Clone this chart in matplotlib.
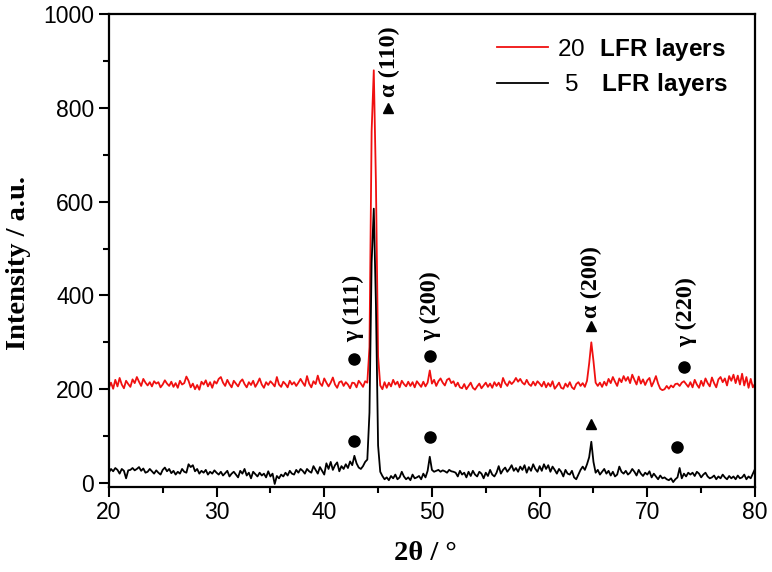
"""
XRD patterns for 20 and 5 LFR layers
"""

import numpy as np
import matplotlib
matplotlib.use('Agg')
import matplotlib.pyplot as plt

# 2-theta sampling, 0.2 deg from 20 to 80
two_theta = np.round(np.arange(20.0, 80.01, 0.2), 1)

# 20 LFR layers (red)
red_counts = [
    203, 214, 201, 220, 206, 224, 210, 202, 218, 211,
    205, 221, 213, 226, 216, 207, 222, 214, 208, 215,
    206, 217, 212, 215, 204, 210, 219, 212, 207, 216,
    205, 213, 203, 218, 210, 213, 227, 218, 204, 212,
    200, 209, 199, 216, 210, 219, 206, 215, 203, 217,
    212, 222, 226, 214, 207, 220, 211, 204, 218, 212,
    206, 216, 221, 211, 204, 215, 209, 218, 205, 213,
    223, 210, 203, 215, 209, 217, 212, 206, 226, 210,
    205, 216, 211, 204, 218, 210, 215, 207, 214, 222,
    214, 207, 228, 212, 204, 217, 211, 229, 213, 207,
    223, 214, 206, 214, 225, 210, 203, 215, 217, 207,
    215, 210, 202, 214, 213, 204, 218, 212, 205, 217,
    214, 290, 750, 880, 640, 270, 208, 200, 215, 203,
    214, 206, 220, 210, 216, 204, 218, 211, 206, 216,
    207, 215, 204, 217, 211, 205, 216, 206, 214, 240,
    212, 220, 207, 217, 223, 214, 208, 220, 223, 213,
    217, 206, 214, 204, 202, 211, 200, 207, 214, 203,
    199, 206, 212, 202, 208, 214, 205, 212, 203, 215,
    207, 214, 204, 224, 213, 207, 217, 211, 216, 224,
    216, 222, 214, 210, 220, 211, 207, 216, 208, 217,
    212, 206, 216, 204, 213, 206, 217, 201, 207, 214,
    203, 201, 212, 205, 215, 204, 200, 211, 215, 207,
    213, 205, 218, 255, 300, 260, 214, 207, 214, 205,
    216, 208, 222, 213, 226, 216, 207, 223, 215, 228,
    218, 226, 213, 231, 220, 210, 227, 212, 221, 209,
    219, 224, 206, 216, 228, 212, 201, 198, 200, 207,
    201, 208, 204, 211, 212, 207, 214, 217, 211, 205,
    215, 204, 220, 210, 203, 218, 207, 223, 213, 206,
    225, 213, 204, 221, 226, 215, 223, 208, 228, 218,
    231, 213, 229, 210, 233, 208, 226, 203, 222, 204,
    212,
]

# 5 LFR layers (black)
black_counts = [
    22, 30, 25, 32, 28, 20, 30, 26, 10, 27,
    28, 32, 27, 30, 34, 26, 31, 22, 24, 30,
    25, 20, 27, 22, 18, 28, 33, 25, 30, 21,
    26, 18, 24, 20, 30, 24, 22, 40, 34, 38,
    25, 30, 20, 26, 22, 28, 18, 24, 20, 27,
    22, 18, 24, 16, 21, 26, 14, 20, 24, 18,
    12, 26, 20, 30, 16, 22, 10, 24, 19, 14,
    22, 16, 20, 12, 25, 14, 20, -2, 15, 10,
    18, 14, 22, 16, 26, 20, 18, 28, 22, 30,
    26, 20, 30, 25, 22, 36, 28, 20, 34, 26,
    18, 42, 30, 45, 28, 38, 44, 25, 36, 30,
    40, 32, 46, 38, 58, 42, 33, 30, 36, 45,
    50, 150, 470, 585, 380, 80, 24, 15, 8, 12,
    6, 15, 10, 18, 8, 12, 24, 14, 8, 12,
    6, 18, 10, 12, 15, 8, 20, 12, 26, 56,
    28, 24, 26, 28, 24, 27, 25, 22, 28, 25,
    24, 22, 14, 26, 18, 22, 12, 24, 15, 26,
    18, 14, 24, 20, 10, 22, 15, 28, 18, 14,
    22, 36, 20, 28, 33, 24, 30, 38, 26, 32,
    24, 35, 28, 38, 22, 34, 26, 40, 30, 24,
    36, 26, 40, 30, 38, 24, 35, 28, 20, 30,
    24, 14, 28, 20, 18, 26, 12, 8, 18, 28,
    35, 28, 40, 55, 88, 45, 22, 28, 18, 24,
    30, 20, 26, 16, 24, 14, 18, 35, 24, 20,
    26, 18, 22, 30, 24, 16, 28, 20, 15, 22,
    18, 25, 12, 20, 14, 8, 16, 10, 12, 8,
    6, 10, 2, 8, 12, 32, 10, 20, 14, 22,
    18, 22, 15, 24, 20, 12, 18, 22, 14, 10,
    12, 16, 8, 14, 10, 18, 12, 8, 15, 10,
    14, 8, 16, 10, 12, 18, 8, 14, 10, 20,
    30,
]

# peak labels and their marker positions
peak_labels = ['\u03b3 (111)', '\u03b1 (110)', '\u03b3 (200)', '\u03b1 (200)', '\u03b3 (220)']
label_x = [42.7, 46.1, 49.85, 64.8, 73.6]
label_y = [300, 823, 302, 352, 291]
red_mark_x = [42.8, 45.95, 49.8, 64.8, 73.4]
red_mark_y = [264, 800, 270, 334, 247]
red_mark_sym = ['o', '^', 'o', '^', 'o']
black_mark_x = [42.8, 49.8, 64.8, 72.8]
black_mark_y = [89, 98, 125, 77]
black_mark_sym = ['o', 'o', '^', 'o']

plt.rcParams.update({
    'font.family': 'Liberation Sans',
    'mathtext.fontset': 'custom',
    'mathtext.rm': 'Liberation Sans',
    'mathtext.bf': 'Liberation Sans:bold',
})

fig = plt.figure(figsize=(7.72, 5.72), dpi=100)
ax = fig.add_axes([0.141, 0.149, 0.837, 0.8265])

ax.plot(two_theta, red_counts, color='#f01010', linewidth=1.3,
        label=r'$\mathrm{20}\ \ \mathbf{LFR\ layers}$')
ax.plot(two_theta, black_counts, color='black', linewidth=1.3,
        label=r'$\ \mathrm{5}\ \ \ \mathbf{LFR\ layers}$')

for xm, ym, s in zip(red_mark_x, red_mark_y, red_mark_sym):
    ax.plot(xm, ym, marker=s, color='black', markersize=8 if s == 'o' else 7,
            linestyle='none')
for xm, ym, s in zip(black_mark_x, black_mark_y, black_mark_sym):
    ax.plot(xm, ym, marker=s, color='black', markersize=8 if s == 'o' else 7,
            linestyle='none')
for lab, xt, yt in zip(peak_labels, label_x, label_y):
    ax.text(xt, yt, lab, rotation=90, ha='center', va='bottom',
            family='Liberation Serif', fontweight='bold', fontsize=17.5)

ax.set_xlim(20, 80)
ax.set_ylim(-8, 1000)
ax.set_xticks([20, 30, 40, 50, 60, 70, 80])
ax.set_xticks(np.arange(25, 80, 10), minor=True)
ax.set_yticks([0, 200, 400, 600, 800, 1000])
ax.set_yticks([100, 300, 500, 700, 900], minor=True)
ax.tick_params(which='major', direction='out', length=7, width=1.5, labelsize=16.5)
ax.tick_params(which='minor', direction='out', length=4, width=1.5)
for sp in ax.spines.values():
    sp.set_linewidth(1.6)

ax.set_xlabel('2\u03b8 / \u00b0', family='Liberation Serif', fontweight='bold',
              fontsize=20.5)
ax.set_ylabel('Intensity / a.u.', family='Liberation Serif', fontweight='bold',
              fontsize=20.5)
ax.xaxis.set_label_coords(0.49, -0.115)
ax.yaxis.set_label_coords(-0.12, 0.474)

ax.legend(loc='upper left', bbox_to_anchor=(0.582, 0.98), frameon=False,
          fontsize=17.5, handlelength=2.1, handletextpad=0.35, labelspacing=0.35,
          borderpad=0)

fig.savefig('out.png', dpi=100)
